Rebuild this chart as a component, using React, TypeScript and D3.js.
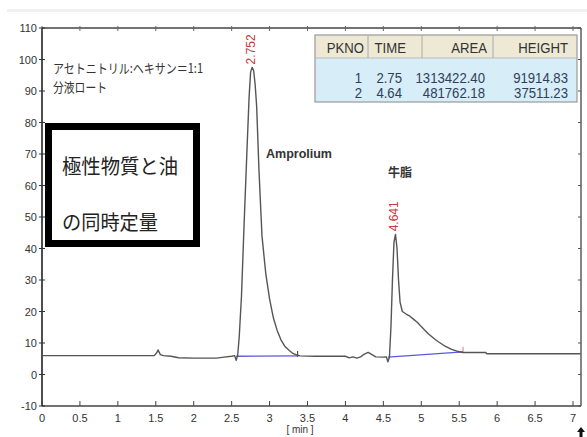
import * as d3 from 'd3'

// chromatogram trace (time in min, signal)
const traceTime = [
  0, 1.48, 1.51, 1.53, 1.56, 1.6, 1.7, 1.8, 2.0, 2.3, 2.4, 2.5, 2.54, 2.56, 2.58,
  2.6, 2.63, 2.66, 2.7, 2.73, 2.75, 2.77, 2.79, 2.81, 2.83, 2.86, 2.9, 2.95, 3.0,
  3.05, 3.1, 3.15, 3.2, 3.26, 3.3, 3.37, 3.4, 3.6, 4.0, 4.05, 4.1, 4.15, 4.2, 4.25,
  4.3, 4.35, 4.4, 4.5, 4.54, 4.56, 4.58, 4.6, 4.62, 4.64, 4.66, 4.68, 4.7, 4.72,
  4.75, 4.8, 4.85, 4.9, 4.95, 5.0, 5.05, 5.1, 5.2, 5.3, 5.4, 5.47, 5.55, 5.6, 5.85,
  5.86, 7.1,
]
const traceSignal = [
  6.0, 6.0, 6.8, 7.8, 6.3, 6.0, 5.8, 5.3, 5.2, 5.2, 5.5, 5.8, 6.0, 4.5, 6.2,
  12, 25, 45, 70, 88, 96, 97.5, 96.5, 92, 85, 65, 44, 32, 24,
  18, 14, 11, 9, 7.6, 6.8, 6.1, 5.9, 5.8, 5.8, 5.3, 5.6, 5.2, 5.6, 6.5,
  7.0, 6.3, 5.6, 5.5, 5.6, 4.0, 5.5, 15, 30, 42, 44.5, 40, 30, 23,
  20, 19.2, 18.5, 17.5, 16.5, 15.2, 14, 12.8, 10.8, 9.2, 8.0, 7.4, 7.0, 7.0, 7.0,
  6.6, 6.6,
]

// integration baselines per peak
const peakStart = [2.56, 4.56]
const peakEnd = [3.37, 5.55]
const baseStart = [5.8, 5.5]
const baseEnd = [5.9, 7.2]
const peakLabels = ['2.752', '4.641']
const peakApex = [2.77, 4.66]
const apexSignal = [97.5, 44.5]

// result table
const tableHeader = ['PKNO', 'TIME', 'AREA', 'HEIGHT']
const pkno = ['1', '2']
const times = ['2.75', '4.64']
const areas = ['1313422.40', '481762.18']
const heights = ['91914.83', '37511.23']

const xTicks = [0, 0.5, 1, 1.5, 2, 2.5, 3, 3.5, 4, 4.5, 5, 5.5, 6, 6.5, 7]
const yTicks = [-10, 0, 10, 20, 30, 40, 50, 60, 70, 80, 90, 100, 110]

const W = 587
const H = 437
const L = 42
const R = 581
const T = 28
const B = 406

const x = d3.scaleLinear().domain([0, 7]).range([L, 573])
const y = d3.scaleLinear().domain([-10, 110]).range([B, T])

const sans = "'Liberation Sans', Arial, sans-serif"
const jp = "'Noto Sans CJK JP', sans-serif"

// squeeze table text like the narrow font of the original
function Cell({ x0, y0, text, fill }: { x0: number; y0: number; text: string; fill: string }) {
  return (
    <g transform={`translate(${x0},${y0}) scale(0.94,1)`}>
      <text textAnchor="end" fontFamily={sans} fontSize={14} fill={fill}>
        {text}
      </text>
    </g>
  )
}

export default function App() {
  const pts = traceTime.map((t, i) => [t, traceSignal[i]] as [number, number])
  const line = d3
    .line<[number, number]>()
    .x(d => x(d[0]))
    .y(d => y(d[1]))(pts)!

  const colRight = [362, 402, 485, 568]
  const headRight = [364, 406, 487, 568]
  const colSep = [368, 422, 493]
  const rows = pkno.map((p, i) => [p, times[i], areas[i], heights[i]])

  return (
    <svg
      width={W}
      height={H}
      style={{ position: 'absolute', left: 0, top: 0, background: '#fff' }}
    >
      <rect x={7} y={9} width={W - 7} height={3} fill="#f0f0f0" />

      {/* frame */}
      <line x1={L} x2={R} y1={T} y2={T} stroke="#444" strokeWidth={1.3} />
      <line x1={L} x2={R} y1={B} y2={B} stroke="#444" strokeWidth={1.3} />
      <line x1={R} x2={R} y1={T} y2={B} stroke="#444" strokeWidth={1.3} />
      <line x1={L} x2={L} y1={T} y2={B} stroke="#222" strokeWidth={1.6} />

      {/* x ticks */}
      {xTicks.map(t => (
        <g key={'x' + t}>
          <line x1={x(t)} x2={x(t)} y1={B} y2={B - 5} stroke="#444" />
          <line x1={x(t)} x2={x(t)} y1={T - 2} y2={T + 3} stroke="#666" />
          <text x={x(t)} y={422} textAnchor="middle" fontFamily={sans} fontSize={11} fill="#333">
            {t}
          </text>
        </g>
      ))}
      <text x={300} y={433} textAnchor="middle" fontFamily={sans} fontSize={10} fill="#333">
        [ min ]
      </text>
      <path d={`M${R},${H - 10} l-4,5 h2.5 v5 h3 v-5 h2.5 z`} fill="#111" />

      {/* y ticks */}
      {yTicks.map(v => (
        <g key={'y' + v}>
          <line x1={L - 3} x2={L + 3} y1={y(v)} y2={y(v)} stroke="#333" />
          <line x1={R - 3} x2={R} y1={y(v)} y2={y(v)} stroke="#555" />
          <text x={L - 5} y={y(v) + 4} textAnchor="end" fontFamily={sans} fontSize={11} fill="#333">
            {v}
          </text>
        </g>
      ))}

      {/* integration baselines */}
      {peakStart.map((s, i) => (
        <g key={'b' + i}>
          <line
            x1={x(s)}
            x2={x(peakEnd[i])}
            y1={y(baseStart[i])}
            y2={y(baseEnd[i])}
            stroke="#5a5ae0"
            strokeWidth={1.3}
          />
          <line
            x1={x(peakEnd[i])}
            x2={x(peakEnd[i])}
            y1={y(baseEnd[i]) + 1}
            y2={y(baseEnd[i]) - 5}
            stroke={i === 0 ? '#333' : '#d77'}
            strokeWidth={1}
          />
        </g>
      ))}

      {/* trace */}
      <path d={line} fill="none" stroke="#555" strokeWidth={1.4} strokeLinejoin="round" />

      {/* peak labels */}
      {peakLabels.map((lab, i) => (
        <text
          key={lab}
          transform={`translate(${x(peakApex[i]) + 3},${y(apexSignal[i]) - 3}) rotate(-90)`}
          fontFamily={sans}
          fontSize={12}
          fill="#c83838"
        >
          {lab}
        </text>
      ))}

      {/* annotations */}
      <text x={53} y={73} fontFamily={jp} fontSize={13} fill="#333" textLength={150} lengthAdjust="spacingAndGlyphs">
        アセトニトリル:ヘキサン＝1:1
      </text>
      <text x={53} y={92} fontFamily={jp} fontSize={13} fill="#333" textLength={54} lengthAdjust="spacingAndGlyphs">
        分液ロート
      </text>
      <rect x={48.5} y={126.5} width={148} height={117} fill="#fff" stroke="#000" strokeWidth={7} />
      <text x={62} y={174} fontFamily={jp} fontSize={20} fill="#222" textLength={116} lengthAdjust="spacingAndGlyphs">
        極性物質と油
      </text>
      <text x={62} y={230} fontFamily={jp} fontSize={20} fill="#222" textLength={96} lengthAdjust="spacingAndGlyphs">
        の同時定量
      </text>
      <text x={266} y={158} fontFamily={sans} fontWeight="bold" fontSize={12.5} fill="#333">
        Amprolium
      </text>
      <text x={388} y={177} fontFamily={jp} fontWeight="bold" fontSize={12} fill="#333">
        牛脂
      </text>

      {/* result table */}
      <rect x={315} y={35} width={262} height={23} fill="#ede9d4" />
      <rect x={315} y={58} width={262} height={44} fill="#d7edf8" />
      <rect x={315} y={35} width={262} height={67} fill="none" stroke="#999" strokeWidth={1.2} />
      <line x1={315} x2={577} y1={58} y2={58} stroke="#bbb" />
      {colSep.map(c => (
        <line key={'s' + c} x1={c} x2={c} y1={35} y2={58} stroke="#aaa" />
      ))}
      {tableHeader.map((h, j) => (
        <Cell key={h} x0={headRight[j]} y0={53} text={h} fill="#333" />
      ))}
      {rows.map((r, i) =>
        r.map((c, j) => (
          <Cell key={i + '-' + j} x0={colRight[j]} y0={83 + i * 15} text={c} fill="#2f3f58" />
        ))
      )}
    </svg>
  )
}
